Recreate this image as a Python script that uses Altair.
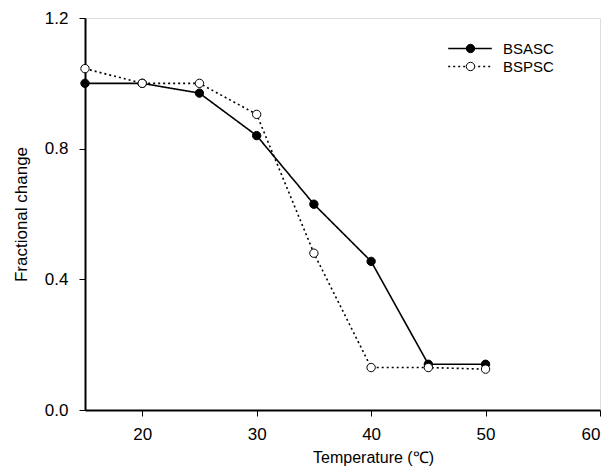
import altair as alt
import pandas as pd

temps = [15, 20, 25, 30, 35, 40, 45, 50]
bsasc = [1.0, 1.0, 0.97, 0.84, 0.63, 0.455, 0.14, 0.14]
bspsc = [1.045, 1.0, 1.0, 0.905, 0.48, 0.13, 0.13, 0.125]
series_names = ["BSASC", "BSPSC"]
x_ticks = [20, 30, 40, 50, 60]
y_ticks = [0.0, 0.4, 0.8, 1.2]

df = pd.DataFrame({
    "T": temps * 2,
    "v": bsasc + bspsc,
    "s": [series_names[0]] * len(temps) + [series_names[1]] * len(temps),
})

FONT = "Liberation Sans"

x = alt.X("T:Q",
          scale=alt.Scale(domain=[15, 60], nice=False, zero=False),
          axis=alt.Axis(values=x_ticks, title="Temperature (℃)", format="d",
                        grid=False, tickSize=6, labelPadding=10, titlePadding=7,
                        titleX=288, titleAlign="center",
                        labelFontSize=17, titleFontSize=16, titleFontWeight="normal",
                        labelFont=FONT, titleFont=FONT, labelColor="black", titleColor="black",
                        domainColor="black", domainWidth=2, tickColor="black", tickWidth=1))
y = alt.Y("v:Q",
          scale=alt.Scale(domain=[0, 1.2], nice=False),
          axis=alt.Axis(values=y_ticks, title="Fractional change", format=".1f",
                        grid=False, tickSize=6, labelPadding=11, titlePadding=14,
                        labelFontSize=17, titleFontSize=17, titleFontWeight="normal",
                        labelFont=FONT, titleFont=FONT, labelColor="black", titleColor="black",
                        domainColor="black", domainWidth=2, tickColor="black", tickWidth=1))

lines = alt.Chart(df).mark_line(color="black", strokeWidth=1.6).encode(
    x=x, y=y,
    strokeDash=alt.StrokeDash("s:N",
        scale=alt.Scale(domain=series_names, range=[[1, 0], [2, 3]]),
        legend=alt.Legend(title=None, orient="none", legendX=362, legendY=23,
                          symbolType="stroke", symbolSize=1900, symbolStrokeWidth=1.6,
                          symbolStrokeColor="black", labelFontSize=15, labelFont=FONT,
                          labelColor="black", labelOffset=10, rowPadding=2, clipHeight=15)),
    detail="s:N",
)

points = alt.Chart(df).mark_point(shape="circle", size=70, stroke="black",
                                   strokeWidth=1, opacity=1, filled=False).encode(
    x=x, y=y,
    fill=alt.Fill("s:N",
        scale=alt.Scale(domain=series_names, range=["black", "white"]),
        legend=alt.Legend(title=None, orient="none", legendX=378, legendY=23,
                          symbolType="circle", symbolSize=70, symbolStrokeColor="black",
                          symbolStrokeWidth=1, symbolOpacity=1, clipHeight=15,
                          labelFontSize=15, labelFont=FONT, labelExpr="''", rowPadding=2)),
)

chart = alt.layer(lines, points).resolve_legend(fill="independent", strokeDash="independent").properties(
    width=515, height=392,
    autosize=alt.AutoSizeParams(type="none"),
    padding={"left": 77, "top": 10, "right": 5, "bottom": 58},
).configure_view(stroke="black", strokeWidth=2).configure(background="white")

chart.save("out.html", embed_options={"renderer": "svg", "actions": False})
